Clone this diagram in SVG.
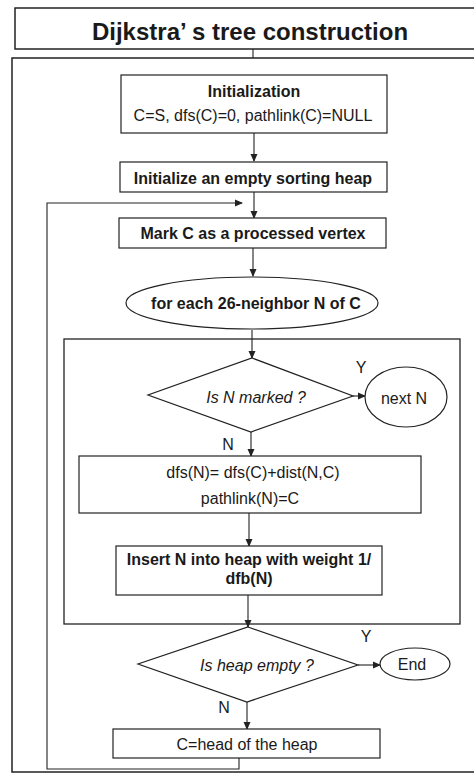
<svg xmlns="http://www.w3.org/2000/svg" width="474" height="774" viewBox="0 0 474 774">
<style>
.box{fill:#fff;stroke:#222;stroke-width:1.2}
.frame{fill:none;stroke:#222;stroke-width:1.5}
.ln{fill:none;stroke:#222;stroke-width:1.1}
text{font-family:"Liberation Sans",Arial,sans-serif;fill:#1a1a1a;text-anchor:middle}
.b{font-weight:bold;font-size:16px}
.r{font-size:16px}
.i{font-style:italic;font-size:16px}
</style>
<defs>
<marker id="ah" markerWidth="8" markerHeight="8" refX="7" refY="4" orient="auto" markerUnits="userSpaceOnUse">
<path d="M0,0.5 L8,4 L0,7.5 Z" fill="#222"/>
</marker>
</defs>
<rect width="474" height="774" fill="#fff"/>
<g id="title">
<rect class="frame" x="15" y="8" width="470" height="41"/>
<text x="250" y="40" style="font-size:24px;font-weight:bold">Dijkstra’ s tree construction</text>
</g>
<g id="outer">
<rect class="frame" x="12" y="58" width="475" height="714"/>
</g>
<g id="inner">
<rect class="ln" x="64" y="339" width="396" height="285" style="stroke-width:1.3"/>
</g>
<g id="connectors">
<line class="ln" x1="253" y1="49" x2="253" y2="58"/>
<line class="ln" x1="254" y1="133" x2="254" y2="161" marker-end="url(#ah)"/>
<line class="ln" x1="254" y1="192" x2="254" y2="218" marker-end="url(#ah)"/>
<line class="ln" x1="253" y1="248" x2="253" y2="276" marker-end="url(#ah)"/>
<line class="ln" x1="252" y1="330" x2="252" y2="358" marker-end="url(#ah)"/>
<line class="ln" x1="353" y1="396" x2="365" y2="396" marker-end="url(#ah)"/>
<line class="ln" x1="251" y1="432" x2="251" y2="456" marker-end="url(#ah)"/>
<line class="ln" x1="249" y1="513" x2="249" y2="546" marker-end="url(#ah)"/>
<line class="ln" x1="248" y1="595" x2="248" y2="627" marker-end="url(#ah)"/>
<line class="ln" x1="358" y1="665" x2="380" y2="665" marker-end="url(#ah)"/>
<line class="ln" x1="247" y1="702" x2="247" y2="729" marker-end="url(#ah)"/>
<polyline class="ln" points="239,758 239,769 47,769 47,203 242,203" marker-end="url(#ah)"/>
</g>
<g id="init">
<rect class="box" x="121" y="75" width="266" height="58"/>
<text class="b" x="254" y="97">Initialization</text>
<text class="r" x="253" y="121">C=S, dfs(C)=0, pathlink(C)=NULL</text>
</g>
<g id="heap-init">
<rect class="box" x="120" y="162" width="267" height="30"/>
<text class="b" x="253" y="184">Initialize an empty sorting heap</text>
</g>
<g id="mark">
<rect class="box" x="119" y="218" width="267" height="30"/>
<text class="b" x="253" y="239">Mark C as a processed vertex</text>
</g>
<g id="foreach">
<ellipse class="box" cx="252" cy="303" rx="126" ry="26"/>
<text class="b" x="256" y="309">for each 26-neighbor N of C</text>
</g>
<g id="is-marked">
<polygon class="box" points="252,358 353,396 251,432 148,395"/>
<text class="i" x="256" y="403">Is N marked ?</text>
<text class="r" x="361" y="373">Y</text>
<text class="r" x="228" y="450">N</text>
</g>
<g id="nextN">
<ellipse class="box" cx="406" cy="397" rx="41" ry="30"/>
<text class="r" x="404" y="404">next N</text>
</g>
<g id="update">
<rect class="box" x="79" y="456" width="342" height="57"/>
<text class="r" x="253" y="478">dfs(N)= dfs(C)+dist(N,C)</text>
<text class="r" x="250" y="504">pathlink(N)=C</text>
</g>
<g id="insert">
<rect class="box" x="116" y="546" width="266" height="49"/>
<text class="b" x="249" y="565">Insert N into heap with weight 1/</text>
<text class="b" x="249" y="584">dfb(N)</text>
</g>
<g id="is-empty">
<polygon class="box" points="248,627 358,665 247,702 138,664"/>
<text class="i" x="257" y="671">Is heap empty ?</text>
<text class="r" x="366" y="642">Y</text>
<text class="r" x="224" y="713">N</text>
</g>
<g id="end">
<ellipse class="box" cx="415" cy="664" rx="35" ry="16"/>
<text class="r" x="412" y="670">End</text>
</g>
<g id="head">
<rect class="box" x="113" y="729" width="267" height="29"/>
<text class="r" x="247" y="750">C=head of the heap</text>
</g>
</svg>
